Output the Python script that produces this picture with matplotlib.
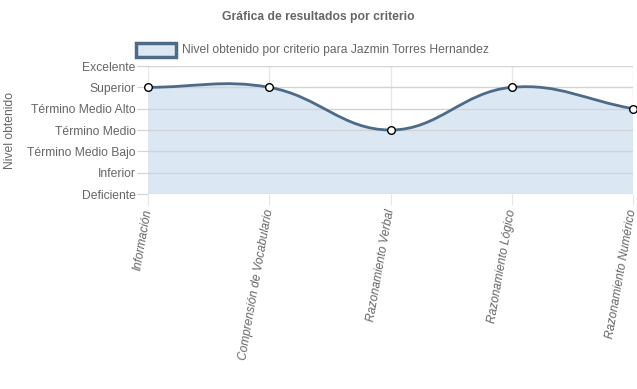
import numpy as np
import matplotlib
matplotlib.use("Agg")
import matplotlib.pyplot as plt
from matplotlib.path import Path
from matplotlib.patches import PathPatch, Rectangle

# =========================
# DATA
# =========================
criterios = ["Información", "Comprensión de Vocabulario", "Razonamiento Verbal",
             "Razonamiento Lógico", "Razonamiento Numérico"]
niveles = ["Deficiente", "Inferior", "Término Medio Bajo", "Término Medio",
           "Término Medio Alto", "Superior", "Excelente"]
resultado = [5, 5, 3, 5, 4]

titulo = "Gráfica de resultados por criterio"
serie = "Nivel obtenido por criterio para Jazmin Torres Hernandez"

line_color = "#4d6a86"
fill_color = "#dbe8f4"
text_color = "#666666"

plt.rcParams["font.family"] = ["Liberation Sans", "DejaVu Sans"]

W, H = 637, 389
fig = plt.figure(figsize=(W / 100, H / 100), dpi=100)
left, right, top, bottom = 148, 633, 66, 194
ax = fig.add_axes([left / W, 1 - bottom / H, (right - left) / W, (bottom - top) / H])

x = np.arange(len(criterios))
y = np.array(resultado, dtype=float)
ax.set_xlim(0, len(criterios) - 1)
ax.set_ylim(0, len(niveles) - 1)

# =========================
# SPLINE (chart.js style, tension 0.4) in pixel space
# =========================
pts = ax.transData.transform(np.column_stack([x, y]))
t = 0.4
cps = []
for i in range(len(pts)):
    cur = pts[i]
    prev = pts[i - 1] if i > 0 else cur
    nxt = pts[i + 1] if i < len(pts) - 1 else cur
    d01 = np.hypot(*(cur - prev))
    d12 = np.hypot(*(nxt - cur))
    s01 = d01 / (d01 + d12) if d01 + d12 else 0
    s12 = d12 / (d01 + d12) if d01 + d12 else 0
    cps.append((cur - t * s01 * (nxt - prev), cur + t * s12 * (nxt - prev)))

verts = [pts[0]]
codes = [Path.MOVETO]
for i in range(len(pts) - 1):
    verts += [cps[i][1], cps[i + 1][0], pts[i + 1]]
    codes += [Path.CURVE4] * 3
inv = ax.transData.inverted()
verts_data = inv.transform(np.array(verts))

curve = Path(verts_data, codes)
fill_verts = np.vstack([verts_data, [[x[-1], 0], [x[0], 0], verts_data[0]]])
fill_codes = codes + [Path.LINETO, Path.LINETO, Path.CLOSEPOLY]
ax.add_patch(PathPatch(Path(fill_verts, fill_codes), facecolor=fill_color, edgecolor="none", zorder=1))
ax.add_patch(PathPatch(curve, facecolor="none", edgecolor=line_color, lw=2.0, zorder=3))
ax.plot(x, y, "o", ms=5.5, mfc="white", mec="black", mew=1, zorder=4, clip_on=False)

# =========================
# AXES / GRID
# =========================
for lv in range(len(niveles)):
    ax.axhline(lv, color="#d3d3d3", lw=1, zorder=2)
for xi in x:
    ax.axvline(xi, color="#e6e6e6", lw=1, zorder=0.5)
for s in ax.spines.values():
    s.set_visible(False)

ax.set_yticks(range(len(niveles)))
ax.set_yticklabels(niveles, fontsize=8.7, color=text_color)
ax.set_xticks(x)
ax.set_xticklabels(criterios, fontsize=8.6, color=text_color, style="italic",
                   rotation=80, ha="right", va="center", rotation_mode="anchor")
ax.tick_params(axis="y", length=8, color="#d3d3d3", pad=1)
ax.tick_params(axis="x", length=8, color="#e6e6e6", pad=3)
ax.set_ylabel("Nivel obtenido", fontsize=8.7, color=text_color)
ax.yaxis.set_label_coords(-132 / (right - left), 0.5)

# =========================
# TITLE / LEGEND
# =========================
fig.text(318 / W, 1 - 17 / H, titulo, fontsize=8.7, fontweight="bold", color=text_color,
         ha="center", va="center")
fig.patches.append(Rectangle((136 / W, 1 - 57 / H), 40 / W, 14 / H, transform=fig.transFigure,
                             facecolor=fill_color, edgecolor=line_color, lw=2.5))
fig.text(182 / W, 1 - 50 / H, serie, fontsize=8.7, color=text_color, ha="left", va="center")

fig.savefig("out.png", dpi=100)
